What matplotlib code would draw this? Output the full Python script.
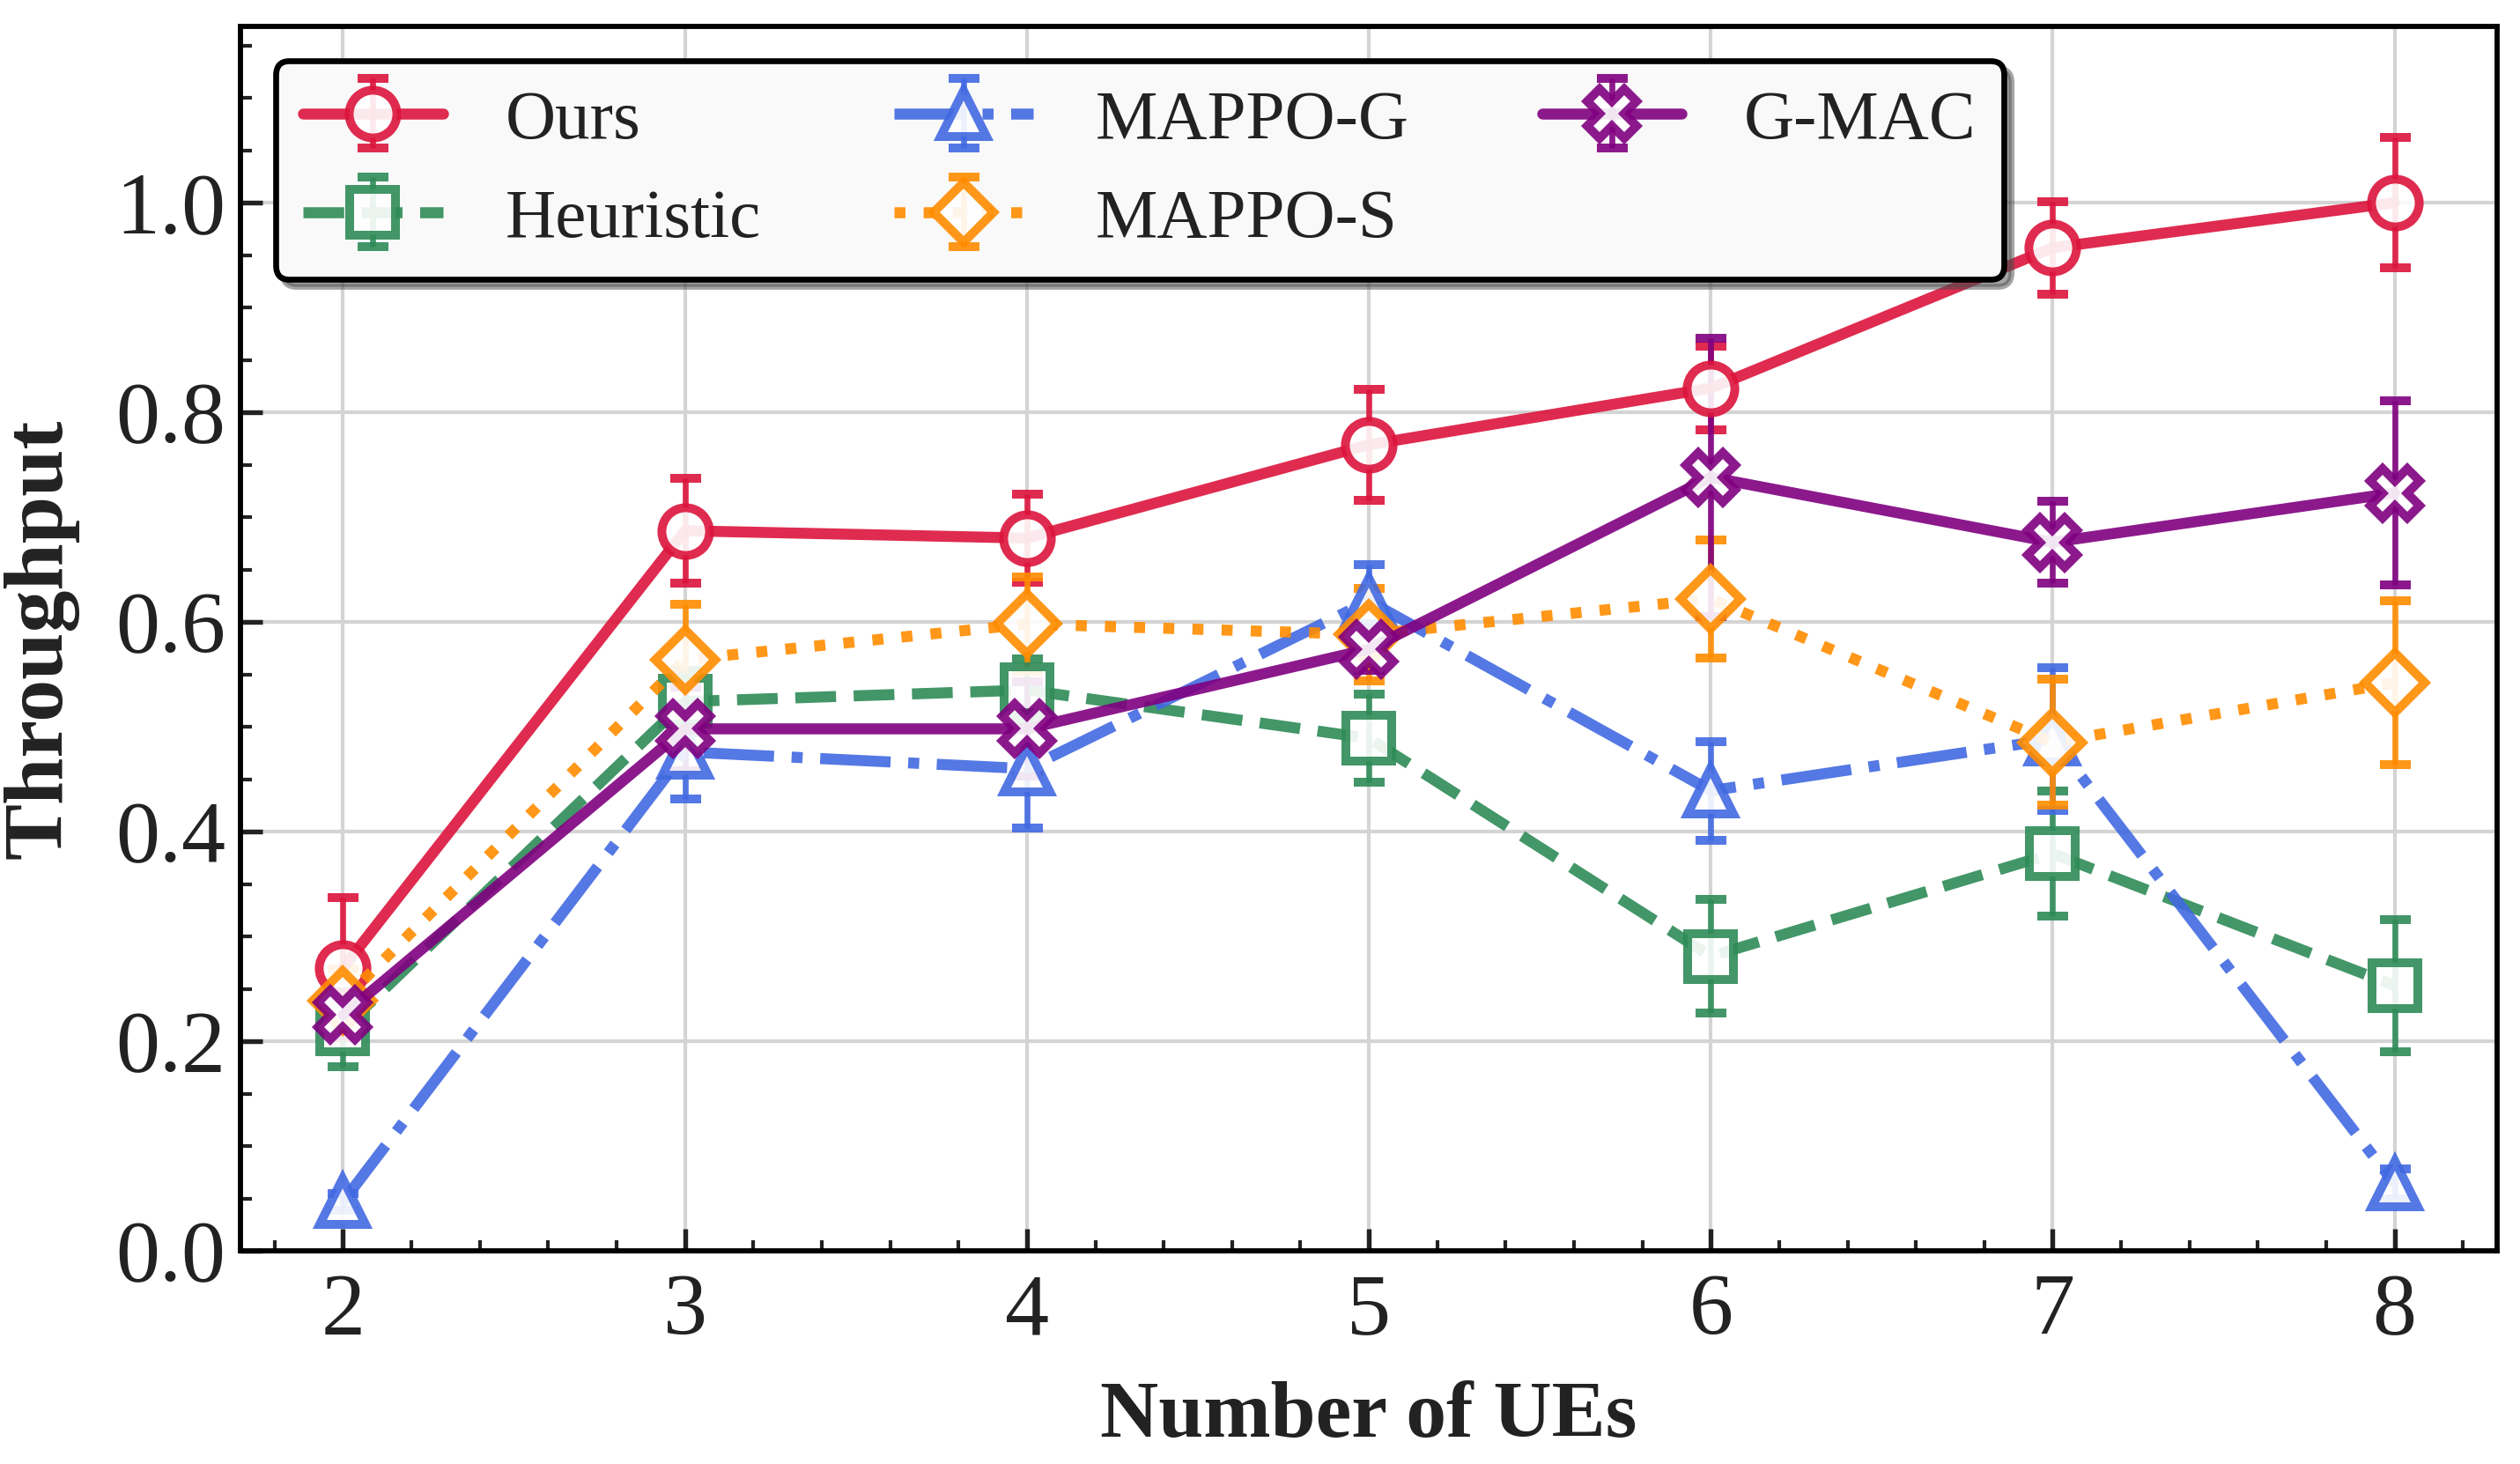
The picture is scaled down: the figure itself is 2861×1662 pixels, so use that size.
import numpy as np
import matplotlib
matplotlib.use("Agg")
import matplotlib.pyplot as plt
from matplotlib.ticker import AutoMinorLocator, MultipleLocator

# ===== data =====
num_ues = [2, 3, 4, 5, 6, 7, 8]

ours = [0.270, 0.687, 0.680, 0.769, 0.823, 0.957, 1.000]
ours_err = [0.067, 0.050, 0.042, 0.053, 0.040, 0.044, 0.062]

heuristic = [0.212, 0.524, 0.535, 0.489, 0.281, 0.379, 0.253]
heuristic_err = [0.036, 0.030, 0.030, 0.042, 0.054, 0.060, 0.063]

mappo_g = [0.047, 0.476, 0.460, 0.620, 0.439, 0.488, 0.064]
mappo_g_err = [0.008, 0.045, 0.057, 0.035, 0.047, 0.068, 0.014]

mappo_s = [0.239, 0.564, 0.598, 0.588, 0.622, 0.485, 0.542]
mappo_s_err = [0.030, 0.053, 0.045, 0.044, 0.056, 0.060, 0.078]

gmac = [0.225, 0.498, 0.498, 0.574, 0.738, 0.676, 0.723]
gmac_err = [0.020, 0.040, 0.045, 0.020, 0.133, 0.039, 0.088]

series = [
    ("Ours", ours, ours_err, "#DC143C", "o", "-"),
    ("Heuristic", heuristic, heuristic_err, "#2E8B57", "s", "--"),
    ("MAPPO-G", mappo_g, mappo_g_err, "#4169E1", "^", "-."),
    ("MAPPO-S", mappo_s, mappo_s_err, "#FF8C00", "D", ":"),
    ("G-MAC", gmac, gmac_err, "#800080", "X", "-"),
]

# ===== style =====
plt.rcParams["font.family"] = ["Liberation Serif", "DejaVu Serif"]
plt.rcParams["text.color"] = "#222222"
plt.rcParams["axes.labelcolor"] = "#222222"
plt.rcParams["xtick.color"] = "#222222"
plt.rcParams["ytick.color"] = "#222222"

fig = plt.figure(figsize=(9.54, 5.54), dpi=300)
ax = fig.add_axes([0.0954, 0.1456, 0.8952, 0.8364])

msizes = {"o": 13, "s": 12.5, "^": 12.5, "D": 11.5, "X": 13.5}
for name, y, err, color, marker, ls in series:
    ax.errorbar(num_ues, y, yerr=err, label=name, color=color, marker=marker,
                linestyle=ls, linewidth=3.0, markersize=msizes[marker],
                markerfacecolor="white", markeredgewidth=2.4,
                elinewidth=1.6, capsize=4.2, capthick=2.0, alpha=0.9,
                solid_capstyle="round")

top = max(np.array(ours) + np.array(ours_err)) * 1.1
ax.set_xlim(1.7, 8.3)
ax.set_ylim(0, top)

ax.xaxis.set_major_locator(MultipleLocator(1))
ax.yaxis.set_major_locator(MultipleLocator(0.2))
ax.xaxis.set_minor_locator(AutoMinorLocator(5))
ax.yaxis.set_minor_locator(AutoMinorLocator(4))
ax.tick_params(which="both", direction="in", top=False, right=False, labelsize=24)
ax.tick_params(which="major", length=6, width=1.3)
ax.tick_params(which="minor", length=3, width=1.0)
ax.tick_params(axis="y", which="major", pad=4)
ax.tick_params(axis="x", which="major", pad=6)

ax.grid(True, which="major", color="#d4d4d4", linewidth=1.0)
ax.set_axisbelow(True)
for sp in ax.spines.values():
    sp.set_linewidth(1.4)
    sp.set_color("black")

ax.set_xlabel("Number of UEs", fontsize=22, fontweight="bold", labelpad=8)
ax.set_ylabel("Throughput", fontsize=23, fontweight="bold", labelpad=10)

leg = ax.legend(loc="upper left", ncol=3, fontsize=19, frameon=True, fancybox=True,
                shadow=True, framealpha=1.0, facecolor="#f9f9f9", edgecolor="black",
                borderpad=0.4, columnspacing=1.9, handletextpad=0.9)
leg.get_frame().set_linewidth(1.6)

fig.savefig("out.png", dpi=300)
plt.close(fig)
